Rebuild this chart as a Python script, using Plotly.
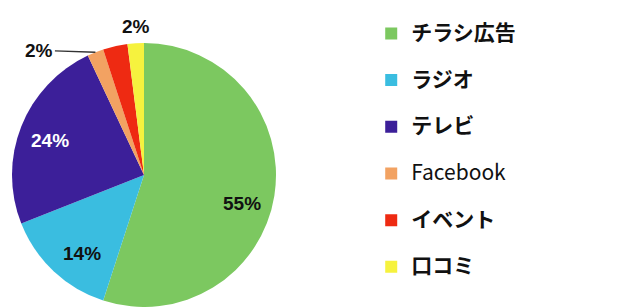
import math
import plotly.graph_objects as go

categories = ["チラシ広告", "ラジオ", "テレビ", "Facebook", "イベント", "口コミ"]
values = [55, 14, 24, 2, 3, 2]
colors = ["#7cc860", "#3abde0", "#3c1f99", "#f2a262", "#ee2a12", "#f6f23e"]
show_label = [True, True, True, True, False, True]
label_color = ["#111111", "#111111", "#ffffff", "#111111", "#111111", "#111111"]
bold_legend = [True, True, True, False, True, True]
# small pixel nudges for the percentage labels (style only)
label_nudge = [(0, 13), (6, 6), (-2, 2), (0, 0), (0, 0), (2, 3)]

W, H = 626, 307
# pie geometry (pixels)
CX, CY, R = 144, 175, 132

legend_labels = []
for c, b in zip(categories, bold_legend):
    t = f"<b>{c}</b>" if b else c
    legend_labels.append(f"<span style='font-size:21px'>{t}</span><br> ")

fig = go.Figure(go.Pie(
    labels=legend_labels,
    values=values,
    sort=False,
    direction="clockwise",
    rotation=0,
    marker=dict(colors=colors, line=dict(width=0)),
    textinfo="none",
    domain=dict(x=[max(0, (CX - R) / W), min(1, (CX + R) / W)],
                y=[max(0, (H - CY - R) / H), min(1, (H - CY + R) / H)]),
    hoverinfo="skip",
))

# percentage labels placed along each slice's mid angle
total = sum(values)
cum = 0
annotations = []
for i, v in enumerate(values):
    mid = (cum + v / 2) / total * 2 * math.pi
    cum += v
    if not show_label[i]:
        continue
    pct = f"{round(v / total * 100)}%"
    font = dict(family="Liberation Sans", size=19, color=label_color[i], weight="bold")
    sx, sy = math.sin(mid), math.cos(mid)
    nx, ny = label_nudge[i]
    if v / total >= 0.05:
        k = 0.75
        annotations.append(dict(x=(CX + k * R * sx + nx) / W, y=(H - CY + k * R * sy - ny) / H,
                                xref="paper", yref="paper", text=pct, showarrow=False,
                                xanchor="center", yanchor="middle", font=font))
    elif i == 3:
        annotations.append(dict(x=(CX + R * sx) / W, y=(H - CY + R * sy) / H,
                                xref="paper", yref="paper", text=pct, showarrow=True,
                                arrowhead=0, arrowwidth=1.3, arrowcolor="#333333",
                                ax=-56, ay=-2, xanchor="center", yanchor="middle", font=font))
    else:
        k = 1.15
        annotations.append(dict(x=(CX + k * R * sx + nx) / W, y=(H - CY + k * R * sy - ny) / H,
                                xref="paper", yref="paper", text=pct, showarrow=False,
                                xanchor="center", yanchor="middle", font=font))

fig.update_layout(
    width=W, height=H,
    margin=dict(l=0, r=0, t=0, b=0),
    paper_bgcolor="white",
    showlegend=True,
    annotations=annotations,
    legend=dict(
        x=0.593, y=0.916, xanchor="left", yanchor="top",
        font=dict(family="Noto Sans CJK JP", size=16.8, color="#111111"),
        valign="top",
        bgcolor="rgba(0,0,0,0)",
    ),
)

fig.write_html("out.html", config={"displayModeBar": False},
               post_script="document.body.style.margin='0';")
